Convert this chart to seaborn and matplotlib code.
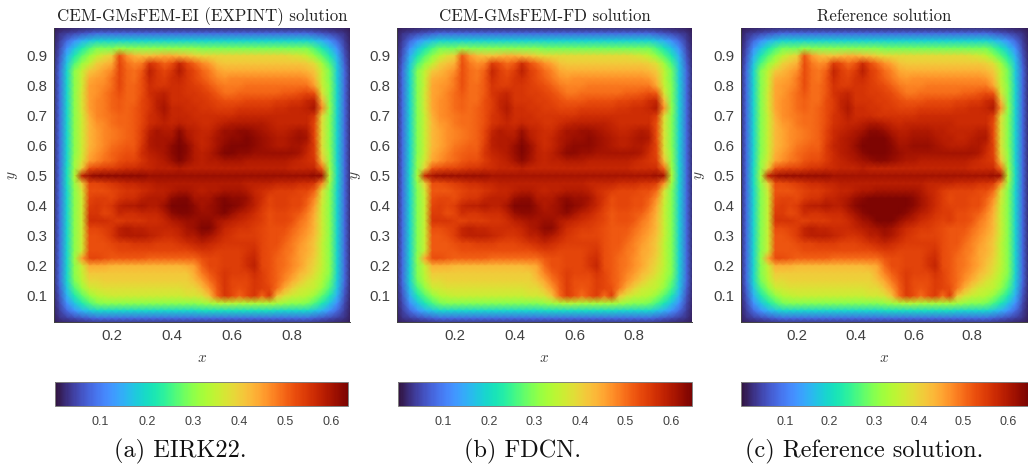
#%% LIB
import numpy as np
import matplotlib
matplotlib.use("Agg")
import matplotlib.pyplot as plt
import seaborn as sns

#%% DATA
# solution on a 41 x 41 grid in 1/100 units, first row is y = 1
U_ROWS = [
    [1] * 41,
    [1, 3, 4, 5, 6, 7, 8, 8, 8, 8, 8, 8, 8, 8, 8, 8, 8, 8, 8, 8, 8, 8, 8, 8, 8, 8, 8, 8, 8, 8, 8, 8, 8, 8, 8, 7, 6, 5, 4, 3, 1],
    [1, 4, 8, 12, 15, 17, 19, 19, 19, 19, 19, 19, 19, 19, 19, 19, 19, 19, 19, 19, 19, 19, 19, 19, 19, 19, 19, 19, 19, 19, 19, 19, 19, 19, 19, 17, 15, 12, 8, 4, 1],
    [1, 5, 12, 17, 22, 26, 29, 29, 29, 31, 30, 30, 30, 30, 30, 30, 30, 30, 30, 30, 29, 29, 29, 29, 29, 29, 29, 29, 29, 29, 29, 29, 29, 29, 29, 26, 22, 17, 12, 5, 1],
    [1, 6, 15, 22, 27, 31, 35, 38, 40, 52, 46, 43, 42, 42, 43, 44, 44, 43, 42, 40, 39, 39, 39, 39, 39, 39, 39, 39, 39, 39, 39, 39, 38, 37, 35, 31, 27, 22, 15, 6, 1],
    [1, 7, 17, 26, 31, 35, 40, 42, 44, 53, 49, 47, 48, 55, 53, 50, 52, 57, 53, 50, 47, 45, 42, 41, 41, 41, 41, 41, 41, 41, 41, 41, 41, 41, 40, 38, 32, 26, 17, 7, 1],
    [1, 8, 19, 30, 35, 41, 43, 45, 47, 53, 50, 49, 51, 58, 55, 53, 55, 59, 55, 53, 50, 48, 45, 44, 44, 44, 44, 44, 44, 44, 44, 44, 44, 44, 43, 41, 35, 29, 18, 8, 1],
    [1, 8, 19, 30, 36, 44, 45, 46, 49, 53, 50, 49, 52, 57, 55, 54, 56, 57, 55, 53, 51, 49, 47, 46, 47, 47, 47, 47, 47, 47, 47, 47, 47, 47, 46, 43, 35, 29, 18, 8, 1],
    [1, 8, 19, 30, 36, 45, 46, 47, 49, 53, 50, 50, 52, 56, 55, 55, 56, 56, 55, 54, 53, 51, 49, 48, 48, 48, 49, 49, 49, 49, 49, 49, 49, 49, 49, 45, 36, 30, 19, 8, 1],
    [1, 8, 19, 30, 37, 45, 46, 48, 50, 52, 50, 50, 52, 56, 57, 58, 56, 56, 55, 55, 54, 53, 51, 49, 49, 50, 50, 50, 50, 50, 50, 51, 51, 52, 53, 52, 38, 30, 19, 8, 1],
    [1, 8, 19, 30, 37, 45, 47, 48, 50, 51, 50, 50, 53, 55, 58, 59, 56, 56, 56, 55, 55, 54, 53, 52, 52, 52, 53, 53, 53, 53, 54, 54, 55, 55, 57, 58, 43, 30, 19, 8, 1],
    [1, 8, 19, 30, 37, 45, 47, 48, 50, 51, 50, 51, 53, 55, 58, 60, 57, 57, 56, 56, 55, 55, 54, 54, 54, 55, 55, 55, 55, 55, 56, 56, 57, 57, 58, 60, 47, 31, 19, 8, 1],
    [1, 8, 19, 30, 36, 44, 47, 48, 49, 50, 50, 51, 53, 56, 57, 59, 57, 57, 57, 56, 56, 56, 56, 56, 56, 57, 57, 57, 57, 57, 57, 57, 57, 57, 57, 55, 39, 30, 19, 8, 1],
    [1, 8, 19, 30, 36, 43, 46, 47, 49, 50, 50, 51, 53, 56, 57, 58, 57, 58, 57, 57, 56, 56, 57, 58, 59, 59, 59, 59, 59, 58, 57, 57, 57, 57, 57, 53, 38, 30, 19, 8, 1],
    [1, 8, 19, 30, 36, 43, 45, 47, 48, 49, 50, 51, 54, 58, 60, 59, 59, 62, 59, 58, 57, 57, 59, 61, 61, 62, 62, 61, 60, 59, 58, 58, 59, 60, 59, 53, 38, 30, 19, 8, 1],
    [1, 8, 19, 30, 36, 43, 45, 47, 48, 49, 50, 51, 54, 59, 60, 60, 60, 63, 60, 58, 57, 58, 60, 61, 62, 62, 63, 62, 61, 60, 59, 59, 60, 61, 60, 53, 38, 30, 19, 8, 1],
    [1, 8, 19, 30, 36, 43, 45, 47, 49, 50, 51, 51, 55, 59, 60, 60, 62, 64, 62, 59, 57, 58, 60, 62, 63, 63, 63, 62, 61, 60, 59, 59, 60, 60, 58, 54, 38, 30, 19, 8, 1],
    [1, 8, 19, 30, 36, 44, 46, 48, 50, 51, 52, 52, 56, 58, 59, 60, 62, 64, 62, 59, 58, 59, 61, 63, 63, 62, 62, 61, 61, 61, 61, 61, 61, 60, 57, 54, 39, 31, 19, 8, 1],
    [1, 8, 19, 31, 37, 45, 47, 49, 50, 52, 53, 53, 55, 57, 58, 59, 61, 63, 61, 59, 58, 59, 59, 60, 60, 60, 59, 59, 59, 59, 59, 59, 58, 57, 56, 55, 42, 31, 19, 8, 1],
    [1, 8, 20, 31, 40, 52, 53, 54, 54, 55, 56, 56, 57, 57, 58, 58, 58, 59, 58, 58, 58, 58, 58, 58, 58, 58, 58, 58, 58, 58, 58, 58, 57, 57, 57, 57, 50, 32, 20, 8, 1],
    [1, 8, 20, 33, 58, 61, 62, 62, 62, 62, 62, 62, 62, 61, 61, 61, 61, 61, 61, 61, 61, 61, 61, 61, 61, 61, 61, 61, 61, 61, 61, 61, 61, 61, 61, 62, 61, 34, 20, 8, 1],
    [1, 8, 20, 31, 40, 53, 53, 54, 55, 56, 57, 57, 58, 58, 59, 59, 59, 59, 59, 59, 59, 59, 59, 59, 59, 59, 58, 58, 58, 58, 57, 57, 57, 56, 56, 55, 47, 32, 20, 8, 1],
    [1, 8, 19, 30, 37, 52, 52, 52, 53, 54, 55, 55, 56, 57, 58, 58, 59, 60, 60, 59, 58, 59, 59, 60, 60, 60, 59, 57, 56, 55, 54, 54, 54, 53, 53, 50, 38, 30, 19, 8, 1],
    [1, 8, 19, 30, 36, 53, 54, 54, 53, 55, 56, 56, 58, 59, 59, 59, 62, 63, 63, 60, 60, 60, 62, 63, 62, 62, 61, 58, 56, 53, 54, 54, 53, 53, 51, 47, 37, 30, 19, 8, 1],
    [1, 8, 19, 30, 36, 54, 55, 54, 55, 58, 59, 59, 60, 59, 59, 61, 64, 64, 64, 62, 60, 61, 62, 64, 63, 62, 60, 58, 55, 53, 54, 54, 53, 53, 50, 45, 36, 30, 19, 8, 1],
    [1, 8, 19, 30, 36, 55, 55, 53, 54, 57, 56, 56, 57, 57, 57, 59, 62, 63, 63, 62, 61, 61, 62, 63, 61, 59, 58, 56, 54, 52, 53, 53, 52, 51, 48, 44, 36, 30, 19, 8, 1],
    [1, 8, 19, 30, 36, 56, 56, 56, 55, 54, 55, 55, 55, 56, 56, 57, 59, 60, 61, 61, 62, 62, 60, 59, 58, 57, 56, 55, 54, 52, 53, 53, 52, 49, 47, 43, 36, 30, 19, 8, 1],
    [1, 8, 19, 30, 36, 53, 53, 54, 55, 58, 59, 58, 58, 57, 57, 57, 57, 58, 60, 61, 63, 63, 60, 57, 56, 55, 55, 54, 53, 52, 52, 52, 50, 48, 46, 43, 36, 30, 19, 8, 1],
    [1, 8, 19, 30, 36, 52, 52, 53, 55, 58, 59, 59, 59, 58, 57, 56, 56, 57, 59, 59, 61, 60, 58, 56, 55, 54, 54, 54, 53, 52, 52, 51, 49, 47, 45, 42, 36, 30, 19, 8, 1],
    [1, 8, 19, 30, 36, 52, 52, 52, 53, 54, 54, 55, 55, 55, 54, 54, 54, 55, 56, 57, 58, 57, 56, 55, 55, 55, 55, 55, 53, 52, 52, 50, 48, 46, 44, 41, 35, 30, 19, 8, 1],
    [1, 8, 19, 30, 36, 52, 52, 52, 52, 53, 53, 53, 53, 53, 53, 53, 53, 53, 53, 54, 55, 55, 54, 54, 54, 54, 55, 56, 53, 52, 51, 49, 48, 45, 44, 41, 35, 30, 19, 8, 1],
    [1, 8, 19, 31, 45, 53, 53, 52, 51, 51, 51, 51, 51, 50, 50, 50, 50, 50, 50, 50, 52, 53, 53, 54, 54, 54, 56, 57, 53, 52, 50, 49, 47, 45, 43, 40, 35, 30, 19, 8, 1],
    [1, 8, 19, 30, 36, 44, 44, 44, 43, 43, 43, 43, 43, 43, 43, 43, 43, 43, 44, 45, 50, 53, 53, 54, 54, 54, 56, 58, 53, 52, 50, 49, 47, 45, 42, 39, 35, 30, 19, 8, 1],
    [1, 8, 19, 30, 35, 41, 41, 41, 41, 41, 41, 41, 41, 41, 41, 41, 41, 41, 41, 44, 48, 51, 53, 55, 54, 54, 54, 56, 54, 52, 50, 48, 46, 43, 41, 38, 34, 30, 19, 8, 1],
    [1, 8, 19, 29, 34, 39, 39, 40, 40, 40, 40, 40, 40, 40, 40, 40, 40, 40, 40, 42, 45, 49, 52, 55, 53, 53, 53, 55, 54, 52, 50, 47, 44, 41, 38, 36, 33, 28, 18, 8, 1],
    [1, 7, 17, 26, 31, 36, 37, 38, 38, 38, 38, 38, 38, 38, 38, 38, 38, 38, 39, 39, 42, 46, 51, 55, 53, 52, 53, 55, 54, 53, 49, 44, 40, 37, 36, 35, 31, 26, 17, 7, 1],
    [1, 6, 15, 22, 27, 31, 34, 35, 36, 36, 36, 36, 36, 36, 36, 36, 36, 36, 37, 37, 38, 42, 50, 55, 53, 50, 53, 55, 50, 55, 42, 38, 36, 35, 34, 31, 27, 22, 15, 6, 1],
    [1, 5, 12, 17, 22, 26, 29, 30, 30, 30, 30, 30, 30, 30, 30, 30, 30, 30, 30, 30, 31, 32, 33, 34, 34, 33, 33, 33, 33, 33, 32, 31, 30, 30, 29, 26, 22, 17, 12, 5, 1],
    [1, 4, 8, 12, 15, 17, 19, 19, 19, 19, 19, 19, 19, 19, 19, 19, 19, 19, 19, 19, 20, 20, 20, 20, 20, 20, 20, 20, 20, 20, 19, 19, 19, 19, 19, 17, 15, 12, 8, 4, 1],
    [1, 3, 4, 5, 6, 7, 8, 8, 8, 8, 8, 8, 8, 8, 8, 8, 8, 8, 8, 8, 8, 8, 8, 8, 8, 8, 8, 8, 8, 8, 8, 8, 8, 8, 8, 7, 6, 5, 4, 3, 1],
    [1] * 41,
]

# rows of the reference solution that differ from the two numerical ones
REF_ROWS = {
    13: [1, 8, 19, 30, 36, 43, 46, 47, 49, 50, 50, 51, 53, 56, 57, 58, 58, 59, 60, 60, 59, 58, 57, 58, 58, 58, 58, 58, 58, 58, 57, 57, 57, 57, 57, 53, 38, 30, 19, 8, 1],
    14: [1, 8, 19, 30, 36, 43, 45, 47, 48, 49, 50, 51, 54, 57, 58, 59, 60, 61, 63, 63, 62, 60, 59, 59, 60, 60, 60, 59, 59, 58, 58, 58, 58, 59, 59, 53, 38, 30, 19, 8, 1],
    15: [1, 8, 19, 30, 36, 43, 45, 47, 48, 49, 50, 51, 54, 57, 59, 60, 61, 63, 64, 64, 64, 62, 60, 60, 61, 61, 61, 60, 59, 59, 58, 58, 59, 60, 60, 53, 38, 30, 19, 8, 1],
    16: [1, 8, 19, 30, 36, 43, 45, 47, 49, 50, 51, 51, 55, 58, 59, 60, 62, 64, 64, 64, 64, 63, 61, 61, 62, 62, 62, 61, 60, 59, 59, 59, 60, 60, 58, 54, 38, 30, 19, 8, 1],
    17: [1, 8, 19, 30, 36, 44, 46, 48, 50, 51, 52, 52, 55, 57, 59, 60, 61, 63, 64, 64, 64, 63, 62, 61, 61, 61, 61, 61, 61, 61, 61, 61, 61, 60, 57, 54, 39, 31, 19, 8, 1],
    18: [1, 8, 19, 31, 37, 45, 47, 49, 50, 52, 53, 53, 55, 57, 58, 59, 60, 61, 62, 63, 63, 62, 61, 60, 60, 59, 59, 59, 59, 59, 59, 59, 58, 57, 56, 55, 42, 31, 19, 8, 1],
    22: [1, 8, 19, 30, 37, 52, 52, 52, 53, 54, 55, 55, 56, 57, 58, 58, 59, 60, 60, 61, 61, 61, 61, 61, 61, 60, 58, 57, 55, 54, 54, 54, 54, 53, 53, 50, 38, 30, 19, 8, 1],
    23: [1, 8, 19, 30, 36, 53, 54, 54, 53, 55, 56, 56, 58, 58, 59, 60, 62, 63, 64, 64, 64, 64, 64, 64, 63, 61, 59, 57, 55, 53, 54, 54, 53, 53, 51, 47, 37, 30, 19, 8, 1],
    24: [1, 8, 19, 30, 36, 54, 55, 54, 55, 58, 59, 59, 60, 59, 59, 61, 63, 64, 64, 64, 64, 64, 64, 64, 63, 61, 59, 57, 55, 54, 54, 54, 53, 53, 50, 45, 36, 30, 19, 8, 1],
    25: [1, 8, 19, 30, 36, 55, 55, 53, 54, 57, 56, 56, 57, 57, 57, 59, 61, 63, 64, 64, 64, 64, 64, 63, 61, 59, 58, 56, 55, 55, 53, 53, 52, 51, 48, 44, 36, 30, 19, 8, 1],
    26: [1, 8, 19, 30, 36, 56, 56, 56, 55, 54, 55, 55, 55, 56, 56, 57, 59, 61, 62, 64, 64, 64, 62, 60, 59, 57, 56, 55, 54, 55, 53, 53, 52, 49, 47, 43, 36, 30, 19, 8, 1],
    27: [1, 8, 19, 30, 36, 53, 53, 54, 55, 58, 59, 58, 58, 57, 57, 57, 58, 59, 60, 61, 62, 61, 59, 57, 56, 55, 55, 54, 53, 52, 52, 52, 50, 48, 46, 43, 36, 30, 19, 8, 1],
}

TITLES = ["CEM-GMsFEM-EI (EXPINT) solution", "CEM-GMsFEM-FD solution", "Reference solution"]
CAPTIONS = ["(a) EIRK22.", "(b) FDCN.", "(c) Reference solution."]
X_TICKS = [0.2, 0.4, 0.6, 0.8]
Y_TICKS = [0.9, 0.8, 0.7, 0.6, 0.5, 0.4, 0.3, 0.2, 0.1]
CBAR_TICKS = [0.1, 0.2, 0.3, 0.4, 0.5, 0.6]
VMIN = 0.001
VMAX = [0.636, 0.646, 0.645]

#%% CONFIG
W, H = 1028, 466
# left, right of each panel and colorbar in pixels
PANELS = [(54, 350), (397, 692), (741, 1028)]
CBARS = [(55, 348), (398, 692), (741, 1028)]
CAPTION_X = [180, 522, 864]
TOP, BOTTOM = 28, 322
CB_TOP, CB_BOTTOM = 382, 406
GREY = "#404040"

sns.set_theme(style="white")
plt.rcParams["font.family"] = ["Liberation Sans", "DejaVu Sans"]
plt.rcParams["mathtext.fontset"] = "cm"


def px_rect(left, right, top, bottom):
    return [left / W, 1 - bottom / H, (right - left) / W, (bottom - top) / H]


u_numeric = np.array(U_ROWS) / 100
u_ref = u_numeric.copy()
for row, values in REF_ROWS.items():
    u_ref[row] = np.array(values) / 100
fields = [u_numeric, u_numeric, u_ref]

#%% PLOT
fig = plt.figure(figsize=(W / 100, H / 100), dpi=100)

for k, field in enumerate(fields):
    left, right = PANELS[k]
    ax = fig.add_axes(px_rect(left, right, TOP, BOTTOM))
    cax = fig.add_axes(px_rect(CBARS[k][0], CBARS[k][1], CB_TOP, CB_BOTTOM))
    sns.heatmap(
        field,
        ax=ax,
        cbar_ax=cax,
        cmap="turbo",
        vmin=VMIN,
        vmax=VMAX[k],
        shading="gouraud",
        xticklabels=False,
        yticklabels=False,
        cbar_kws={"orientation": "horizontal", "ticks": CBAR_TICKS},
    )
    # grid index runs 0..40 for x, y in 0..1
    ax.set_xlim(0.28, 39.72)
    ax.set_ylim(39.47, 0.27)
    ax.set_xticks([v * 40 for v in X_TICKS])
    ax.set_xticklabels([f"{v:.1f}" for v in X_TICKS])
    ax.set_yticks([(1 - v) * 40 for v in Y_TICKS])
    ax.set_yticklabels([f"{v:.1f}" for v in Y_TICKS], rotation=0)
    ax.tick_params(length=0, labelsize=10.8, labelcolor=GREY, pad=5)
    for side in ["left", "bottom"]:
        ax.spines[side].set_visible(True)
        ax.spines[side].set_color(GREY)
        ax.spines[side].set_linewidth(0.7)
    ax.set_xlabel(r"$x$", fontsize=11, color=GREY, labelpad=6)
    ax.set_ylabel(r"$y$", fontsize=11, color=GREY, labelpad=4)
    ax.set_title(TITLES[k], family="cmr10", fontsize=12.1, color="#222222", pad=5)

    cax.tick_params(
        axis="x", direction="in", length=2, width=0.6,
        color=GREY, labelsize=9, labelcolor=GREY, pad=7,
    )
    cbar = ax.collections[0].colorbar
    cbar.set_ticks(CBAR_TICKS, labels=[f"{v:.1f}" for v in CBAR_TICKS])
    cbar.outline.set_visible(True)
    cbar.outline.set_edgecolor("#808080")
    cbar.outline.set_linewidth(0.7)

    fig.text(
        CAPTION_X[k] / W, 1 - 451.5 / H, CAPTIONS[k],
        family="cmr10", fontsize=17.5, color="#111111", ha="center", va="center",
    )

fig.savefig("out.png", dpi=100)
